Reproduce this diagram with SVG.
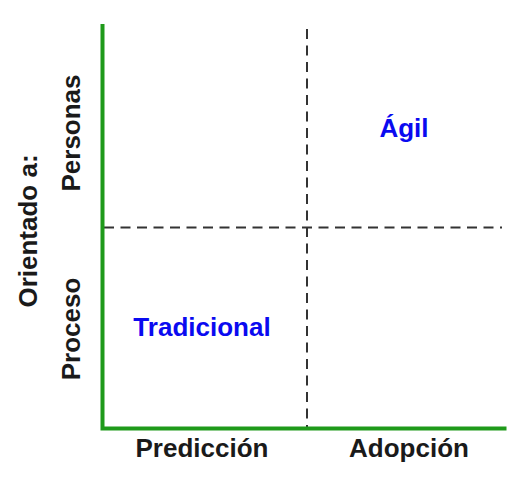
<svg xmlns="http://www.w3.org/2000/svg" width="527" height="477" viewBox="0 0 527 477">
<style>
.lbl{font-family:"Liberation Sans",Arial,sans-serif;font-weight:bold;font-size:26px;fill:#1a1a1a;text-anchor:middle}
.q{font-family:"Liberation Sans",Arial,sans-serif;font-weight:bold;font-size:26px;fill:#0a0af0;text-anchor:middle}
.axis{stroke:#1f9a1a;stroke-width:4;fill:none}
.dash{stroke:#333;stroke-width:2;stroke-dasharray:10,6.5;fill:none}
</style>
<rect width="527" height="477" fill="#fff"/>
<g id="connectors">
<line class="dash" x1="307" y1="29" x2="307" y2="428"/>
<line class="dash" x1="104" y1="227.5" x2="502" y2="227.5"/>
<path class="axis" d="M102.5 24 V428.5 H506.5"/>
</g>
<g id="q-agil"><text class="q" x="404" y="137">Ágil</text></g>
<g id="q-tradicional"><text class="q" x="202" y="336">Tradicional</text></g>
<g id="x-prediccion"><text class="lbl" x="202" y="457">Predicción</text></g>
<g id="x-adopcion"><text class="lbl" x="409" y="457">Adopción</text></g>
<g id="y-personas"><text class="lbl" transform="translate(80,133) rotate(-90)">Personas</text></g>
<g id="y-proceso"><text class="lbl" transform="translate(80,329) rotate(-90)">Proceso</text></g>
<g id="y-title"><text class="lbl" transform="translate(37,231) rotate(-90)">Orientado a:</text></g>
</svg>
